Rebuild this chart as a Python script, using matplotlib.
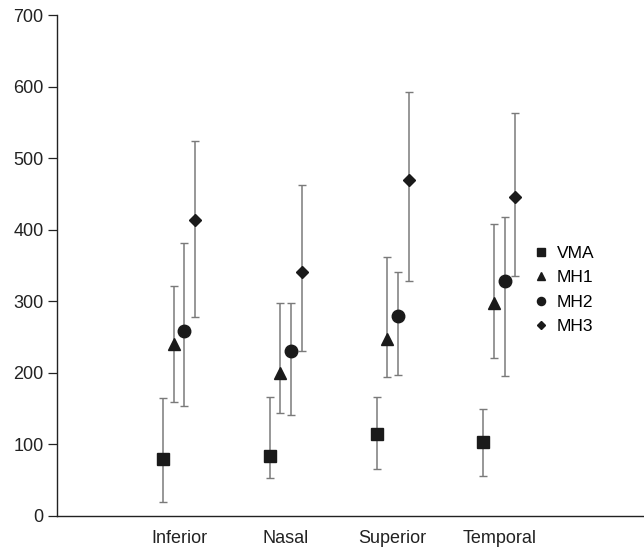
import matplotlib.pyplot as plt
from matplotlib.lines import Line2D
import numpy as np

plt.rcParams['font.family'] = ['Liberation Sans', 'DejaVu Sans']

# categories and values (mean, lower whisker, upper whisker)
categories = ['Inferior', 'Nasal', 'Superior', 'Temporal']
groups = ['VMA', 'MH1', 'MH2', 'MH3']

vma_mean = [80, 84, 115, 104]
vma_lo = [20, 53, 65, 56]
vma_hi = [165, 166, 166, 150]

mh1_mean = [240, 200, 248, 297]
mh1_lo = [159, 144, 194, 221]
mh1_hi = [321, 298, 362, 408]

mh2_mean = [258, 230, 279, 328]
mh2_lo = [154, 141, 197, 196]
mh2_hi = [382, 298, 341, 418]

mh3_mean = [414, 341, 469, 446]
mh3_lo = [278, 231, 328, 335]
mh3_hi = [524, 463, 592, 563]

series = [
    (vma_mean, vma_lo, vma_hi, 's', 8),
    (mh1_mean, mh1_lo, mh1_hi, '^', 8.5),
    (mh2_mean, mh2_lo, mh2_hi, 'o', 9),
    (mh3_mean, mh3_lo, mh3_hi, 'D', 6),
]
offsets = [-0.15, -0.05, 0.05, 0.15]

fig = plt.figure(figsize=(6.44, 5.53), dpi=100)
ax = fig.add_axes([57/644, 37/553, 586/644, 501/553])

x = np.arange(len(categories))
for (m, lo, hi, mk, ms), off in zip(series, offsets):
    m = np.array(m)
    yerr = [m - np.array(lo), np.array(hi) - m]
    ax.errorbar(x + off, m, yerr=yerr, fmt='none', ecolor='#7a7a7a',
                elinewidth=1.1, capsize=2.6, capthick=1.0, zorder=2)
    ax.plot(x + off, m, linestyle='none', marker=mk, markersize=ms,
            color='#1a1a1a', zorder=3)

ax.set_xlim(-1.142, 4.345)
ax.set_ylim(0, 700)
ax.set_yticks(range(0, 701, 100))
ax.set_xticks(x)
ax.set_xticklabels(categories)

for s in ['top', 'right']:
    ax.spines[s].set_visible(False)
for s in ['left', 'bottom']:
    ax.spines[s].set_color('#222222')
    ax.spines[s].set_linewidth(1.0)

ax.tick_params(axis='y', direction='out', length=6.5, width=0.9,
               colors='#222222', labelsize=13, pad=3.2)
ax.tick_params(axis='x', length=0, labelsize=13, colors='#222222', pad=10)

handles = [Line2D([], [], linestyle='none', marker=s[3], markersize=s[4]*0.65,
                  color='#1a1a1a') for s in series]
fig.legend(handles, groups, loc='upper left', bbox_to_anchor=(0.826, 0.555),
           frameon=False, fontsize=12.5, handlelength=1.0, handletextpad=0.45,
           labelspacing=0.52, borderpad=0, borderaxespad=0)

plt.savefig('out.png', dpi=100)
plt.close()
